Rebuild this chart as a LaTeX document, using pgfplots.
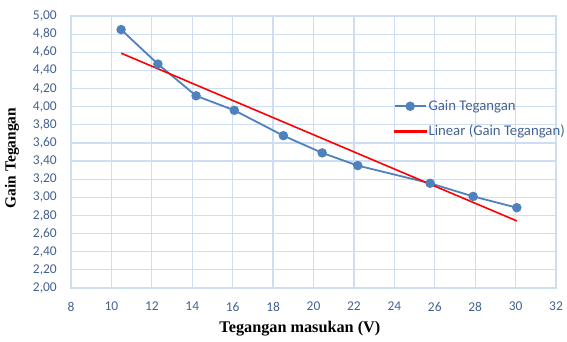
\documentclass[border=0pt]{standalone}
\usepackage{fontspec}
\setmainfont{Liberation Serif}
\newfontfamily\calib{Carlito}
\usepackage{pgfplots}
\pgfplotsset{compat=1.18}
\definecolor{ser}{RGB}{79,129,189}
\definecolor{grd}{RGB}{205,221,242}
\definecolor{tk}{RGB}{68,98,145}
\begin{document}
\begin{tikzpicture}
\begin{axis}[
  at={(0,0)}, anchor=south west,
  scale only axis, width=485bp, height=272bp,
  xmin=8, xmax=32, ymin=2, ymax=5,
  xtick={8,10,12,14,16,18,20,22,24,26,28,30,32},
  ytick={2,2.2,2.4,2.6,2.8,3,3.2,3.4,3.6,3.8,4,4.2,4.4,4.6,4.8,5},
  /pgf/number format/assume math mode=true,
  y tick label style={/pgf/number format/fixed, /pgf/number format/fixed zerofill,
     /pgf/number format/precision=2, /pgf/number format/use comma,
     font=\calib\fontsize{13.5}{13.5}\selectfont, text=tk, anchor=east, inner sep=0pt, xshift=-14bp},
  x tick label style={font=\calib\fontsize{13.5}{13.5}\selectfont, text=tk, anchor=north, inner sep=0pt, yshift=-14bp},
  grid=major, major grid style={draw=grd, line width=1.2bp},
  axis line style={draw=grd, line width=1.2bp},
  major tick length=0pt,
  xlabel={Tegangan masukan (V)},
  ylabel={Gain Tegangan},
  every axis x label/.style={at={(axis description cs:0.472,-0.151)}, anchor=center, font=\bfseries\fontsize{16.3}{16.3}\selectfont},
  every axis y label/.style={at={(axis description cs:-0.1216,0.478)}, rotate=90, anchor=center, font=\bfseries\fontsize{15.5}{15.5}\selectfont},
  legend style={at={(0.659,0.705)}, anchor=north west, draw=none, fill=none,
     font=\calib\fontsize{14.8}{14.8}\selectfont, row sep=9bp,
     nodes={text=tk}},
  legend cell align=left,
  clip=false,
]
\addplot[color=ser, line width=1.8bp, mark=*, mark size=3.8bp, mark options={fill=ser, draw=ser},
  legend image code/.code={\draw[ser, line width=1.8bp] (0bp,0bp) -- (31bp,0bp);
     \fill[ser] (15.5bp,0bp) circle[radius=3.8bp];}] coordinates {
  (10.48,4.85) (12.30,4.47) (14.19,4.12) (16.08,3.96) (18.51,3.68)
  (20.43,3.49) (22.19,3.35) (25.77,3.155) (27.90,3.01) (30.06,2.886)
};
\addlegendentry{Gain Tegangan}
\addplot[draw=red, line width=1.6bp, no marks,
  legend image code/.code={\fill[red] (0bp,-0.75bp) rectangle (31bp,0.75bp);}] coordinates {(10.48,4.59) (30.06,2.74)};
\addlegendentry{Linear (Gain Tegangan)}
\end{axis}
\pgfresetboundingbox
\path (-71bp,-54bp) rectangle (496bp,288bp);
\end{tikzpicture}
\end{document}
